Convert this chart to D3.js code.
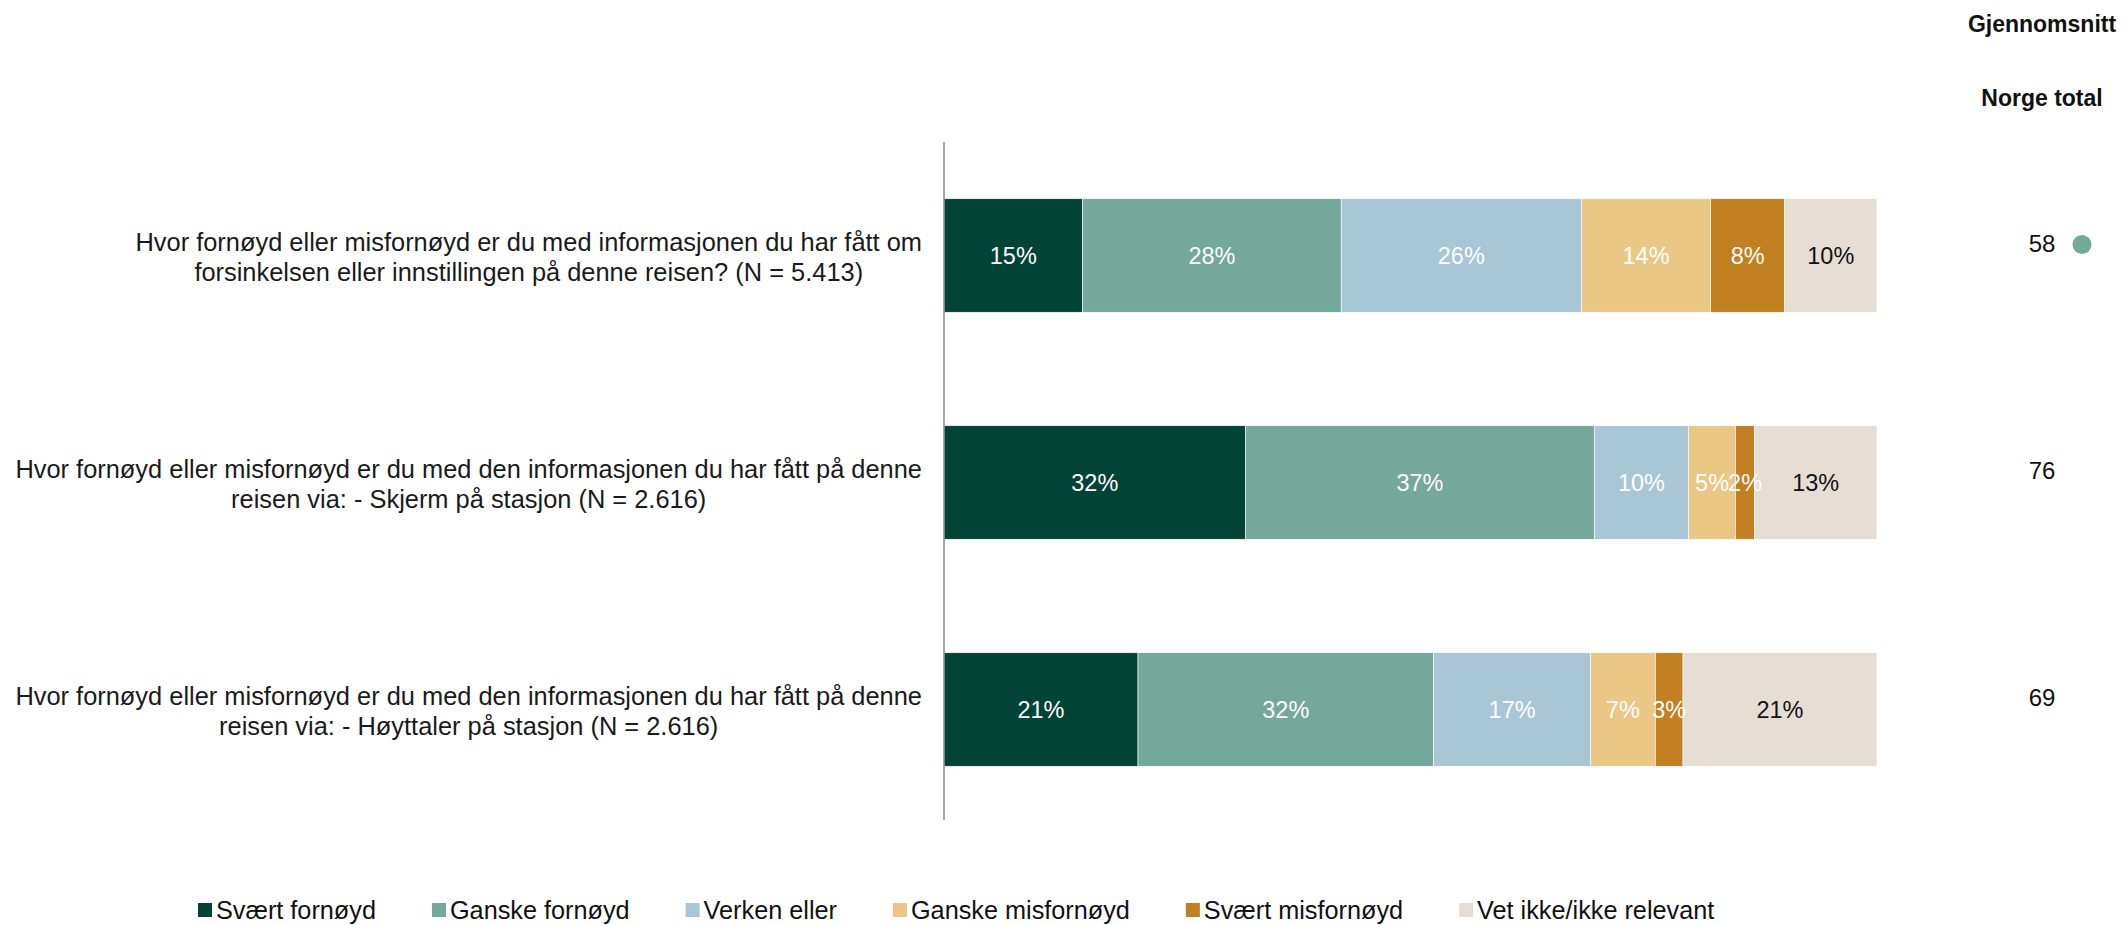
<!DOCTYPE html>
<html><head><meta charset="utf-8">
<script src="https://cdn.jsdelivr.net/npm/d3@7/dist/d3.min.js"></script>
<style>body{margin:0;background:#fff}svg{display:block}</style>
</head><body><svg id="c" width="2124" height="925"></svg>
<script>
const categories = ["Svært fornøyd","Ganske fornøyd","Verken eller","Ganske misfornøyd","Svært misfornøyd","Vet ikke/ikke relevant"];
const colors = ["#014436","#74a89a","#a8c6d6","#eac784","#c28023","#e6ddd4"];
const labelColors = ["#fff","#fff","#fff","#fff","#fff","#111"];
const questions = [
  ["Hvor fornøyd eller misfornøyd er du med informasjonen du har fått om","forsinkelsen eller innstillingen på denne reisen? (N = 5.413)"],
  ["Hvor fornøyd eller misfornøyd er du med den informasjonen du har fått på denne","reisen via: - Skjerm på stasjon (N = 2.616)"],
  ["Hvor fornøyd eller misfornøyd er du med den informasjonen du har fått på denne","reisen via: - Høyttaler på stasjon (N = 2.616)"]
];
const values = [
  [15,28,26,14,8,10],
  [32,37,10,5,2,13],
  [21,32,17,7,3,21]
];
const averages = [58,76,69];
const averageMarker = [true,false,false];
const headerLines = ["Gjennomsnitt","Norge total"];

const svg = d3.select("#c");
const NARROW = "'Liberation Sans Narrow','Arial Narrow','Liberation Sans',Arial,sans-serif";
const REG = "'Liberation Sans',Arial,sans-serif";

function fit(text, family, target, weight){
  const t = svg.append("text").attr("font-family",family).attr("font-size",100).attr("font-weight",weight||"normal").text(text);
  const w = t.node().getComputedTextLength(); t.remove();
  return 100*target/w;
}
const qSize = fit(questions[0][0], NARROW, 787);
const pSize = fit("15%", NARROW, 47);
const lSize = fit("Svært fornøyd", NARROW, 160);

const x = d3.scaleLinear().domain([0,1]).range([944,1877]);
const y = d3.scaleBand().domain(d3.range(questions.length)).range([142,823]).paddingInner(0.5).paddingOuter(0.25);

// bars
values.forEach((row,i)=>{
  const tot = d3.sum(row);
  let cum = 0;
  const segs = row.map((v,j)=>{const s={j,v,x0:cum/tot,x1:(cum+v)/tot}; cum+=v; return s;});
  const g = svg.append("g");
  g.selectAll("rect").data(segs).join("rect")
    .attr("x",d=>x(d.x0)).attr("width",d=>x(d.x1)-x(d.x0))
    .attr("y",y(i)).attr("height",y.bandwidth())
    .attr("fill",d=>colors[d.j]).attr("stroke","#fff").attr("stroke-width",0.6);
  g.selectAll("text").data(segs).join("text")
    .attr("x",d=>(x(d.x0)+x(d.x1))/2).attr("y",y(i)+y.bandwidth()/2)
    .attr("text-anchor","middle").attr("dominant-baseline","central")
    .attr("font-family",NARROW).attr("font-size",pSize)
    .attr("fill",d=>labelColors[d.j]).text(d=>d.v+"%");
});

// axis line
svg.append("line").attr("x1",x(0)).attr("x2",x(0)).attr("y1",142).attr("y2",820)
  .attr("stroke","#8c8c8c").attr("stroke-width",1.5);

// question labels
questions.forEach((lines,i)=>{
  const g = svg.append("g");
  const ts = lines.map((l,k)=>g.append("text").attr("font-family",NARROW).attr("font-size",qSize)
     .attr("fill","#1a1a1a").attr("text-anchor","middle").attr("dominant-baseline","central").text(l));
  const maxW = d3.max(ts,t=>t.node().getComputedTextLength());
  const cx = 922 - maxW/2;
  const cy = y(i)+y.bandwidth()/2;
  ts.forEach((t,k)=>t.attr("x",cx).attr("y",cy + 1 + (k-(lines.length-1)/2)*30));
});

// right column
const rx = 2042;
svg.append("text").attr("x",rx).attr("y",24).attr("text-anchor","middle").attr("dominant-baseline","central")
  .attr("font-family",REG).attr("font-weight","bold").attr("font-size",23).attr("fill","#111").text(headerLines[0]);
svg.append("text").attr("x",rx).attr("y",98).attr("text-anchor","middle").attr("dominant-baseline","central")
  .attr("font-family",REG).attr("font-weight","bold").attr("font-size",23).attr("fill","#111").text(headerLines[1]);
averages.forEach((a,i)=>{
  const cy = y(i)+y.bandwidth()/2 - 12;
  svg.append("text").attr("x",rx).attr("y",cy).attr("text-anchor","middle").attr("dominant-baseline","central")
    .attr("font-family",REG).attr("font-size",24).attr("fill","#111").text(a);
  if(averageMarker[i]) svg.append("circle").attr("cx",2082).attr("cy",cy+1).attr("r",9.5).attr("fill",colors[1]);
});

// legend
let lx = 198;
const ly = 910;
categories.forEach((c,j)=>{
  svg.append("rect").attr("x",lx).attr("y",ly-7).attr("width",14).attr("height",14).attr("fill",colors[j]);
  const t = svg.append("text").attr("x",lx+18).attr("y",ly).attr("dominant-baseline","central")
    .attr("font-family",NARROW).attr("font-size",lSize).attr("fill","#111").text(c);
  lx += 18 + t.node().getComputedTextLength() + 56;
});
</script></body></html>
